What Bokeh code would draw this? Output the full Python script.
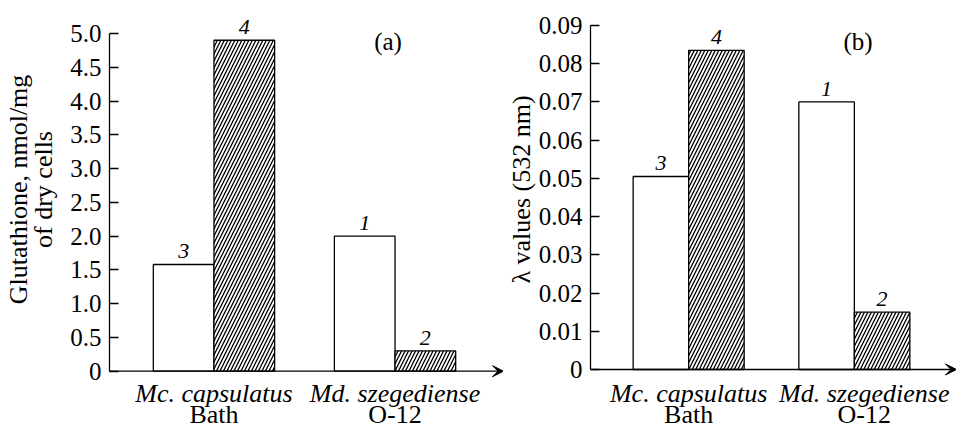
from bokeh.plotting import figure
from bokeh.models import Range1d, FixedTicker, Label, Arrow, VeeHead, LinearAxis
from bokeh.layouts import row
from bokeh.embed import file_html
from bokeh.resources import INLINE

# ---------------- data ----------------
strain_names = ["Mc. capsulatus", "Md. szegediense"]
strain_codes = ["Bath", "O-12"]

glut_plain = [1.58, 2.0]          # bars 3 and 1
glut_hatched = [4.9, 0.3]         # bars 4 and 2
lam_plain = [0.0505, 0.070]
lam_hatched = [0.0835, 0.015]

plain_numbers = ["3", "1"]
hatched_numbers = ["4", "2"]

glut_ticks = [0, 0.5, 1.0, 1.5, 2.0, 2.5, 3.0, 3.5, 4.0, 4.5, 5.0]
glut_tick_labels = ["0", "0.5", "1.0", "1.5", "2.0", "2.5", "3.0", "3.5", "4.0", "4.5", "5.0"]
lam_ticks = [0, 0.01, 0.02, 0.03, 0.04, 0.05, 0.06, 0.07, 0.08, 0.09]
lam_tick_labels = ["0", "0.01", "0.02", "0.03", "0.04", "0.05", "0.06", "0.07", "0.08", "0.09"]

glut_label = "Glutathione, nmol/mg\nof dry cells"
lam_label = "λ values (532 nm)"

FONT = "Liberation Serif"
BW = 0.335


def style_label(ax, text, standoff):
    ax.axis_label = text
    ax.axis_label_standoff = standoff
    ax.axis_label_text_font = FONT
    ax.axis_label_text_font_size = "26px"
    ax.axis_label_text_font_style = "normal"
    ax.axis_label_text_color = "black"
    ax.axis_label_text_line_height = 0.88


def cat_axis(pos, texts, style, standoff):
    return LinearAxis(ticker=FixedTicker(ticks=pos),
                      major_label_overrides={t: s for t, s in zip(pos, texts)},
                      major_tick_in=0, major_tick_out=0, major_tick_line_color=None,
                      minor_tick_line_color=None, major_label_standoff=standoff,
                      major_label_text_font=FONT, major_label_text_font_size="26px",
                      major_label_text_font_style=style,
                      major_label_text_color="black", axis_line_color=None)


def panel(width, bl, xr, yr, bounds, plain, hatched, ticks, tick_labels,
          ylabel, ylabel_standoff, tag, tag_pos, name_shift):
    p = figure(width=width, height=432, output_backend="svg", toolbar_location=None,
               x_range=Range1d(*xr), y_range=Range1d(*yr), x_axis_location=None,
               min_border_left=bl, min_border_right=0, min_border_top=0,
               min_border_bottom=54)
    p.outline_line_color = None
    p.grid.visible = False
    p.background_fill_color = "white"
    p.border_fill_color = "white"

    ya = p.yaxis[0]
    ya.bounds = bounds
    ya.ticker = FixedTicker(ticks=ticks)
    ya.major_label_overrides = {t: s for t, s in zip(ticks, tick_labels)}
    ya.minor_tick_line_color = None
    ya.major_tick_in = 9
    ya.major_tick_out = 0
    ya.axis_line_width = 1.3
    ya.major_tick_line_width = 1.3
    ya.axis_line_color = "black"
    ya.major_tick_line_color = "black"
    ya.major_label_text_font = FONT
    ya.major_label_text_font_size = "25px"
    ya.major_label_text_color = "black"
    ya.major_label_standoff = 8
    style_label(ya, ylabel, ylabel_standoff)

    n = len(plain)
    xs = list(range(n))
    xp = [x - BW / 2 for x in xs]
    xh = [x + BW / 2 for x in xs]
    p.vbar(x=xp, top=plain, width=BW, bottom=0, fill_color="white",
           line_color="black", line_width=1.3)
    p.vbar(x=xh, top=hatched, width=BW, bottom=0, fill_color="white",
           line_color="black", line_width=1.3, hatch_pattern="/",
           hatch_color="black", hatch_scale=7, hatch_weight=1.3)

    for xx, vv, nn in ((xp, plain, plain_numbers), (xh, hatched, hatched_numbers)):
        for x, v, t in zip(xx, vv, nn):
            p.add_layout(Label(x=x, y=v, y_offset=13, text=t, text_align="center",
                               text_baseline="middle", text_font=FONT,
                               text_font_style="italic", text_font_size="22px",
                               text_color="black"))

    p.add_layout(Label(x=tag_pos[0], y=tag_pos[1], text=tag, text_align="center",
                       text_baseline="middle", text_font=FONT,
                       text_font_size="25px", text_color="black"))

    pos = [x + s for x, s in zip(xs, name_shift)]
    p.add_layout(cat_axis(pos, strain_names, "italic", 0), "below")
    p.add_layout(cat_axis(pos, strain_codes, "normal", -11), "below")

    p.add_layout(Arrow(end=VeeHead(size=11, fill_color="black", line_color="black",
                                   line_width=1),
                       x_start=xr[0], y_start=0, x_end=xr[1], y_end=0,
                       line_color="black", line_width=1.3))
    return p


left = panel(503, 107, (-0.577, 1.599), (-0.1081, 5.4886), (0, 5.0),
             glut_plain, glut_hatched, glut_ticks, glut_tick_labels,
             glut_label, 9, "(a)", (0.9615, 4.8816), [0, 0])
right = panel(453, 85, (-0.5924, 1.6165), (-0.002355, 0.096541), (0, 0.09),
              lam_plain, lam_hatched, lam_ticks, lam_tick_labels,
              lam_label, 0, "(b)", (1.0222, 0.08581), [0, 0.06])

layout = row(left, right)
open("out.html", "w").write(file_html(layout, INLINE))
